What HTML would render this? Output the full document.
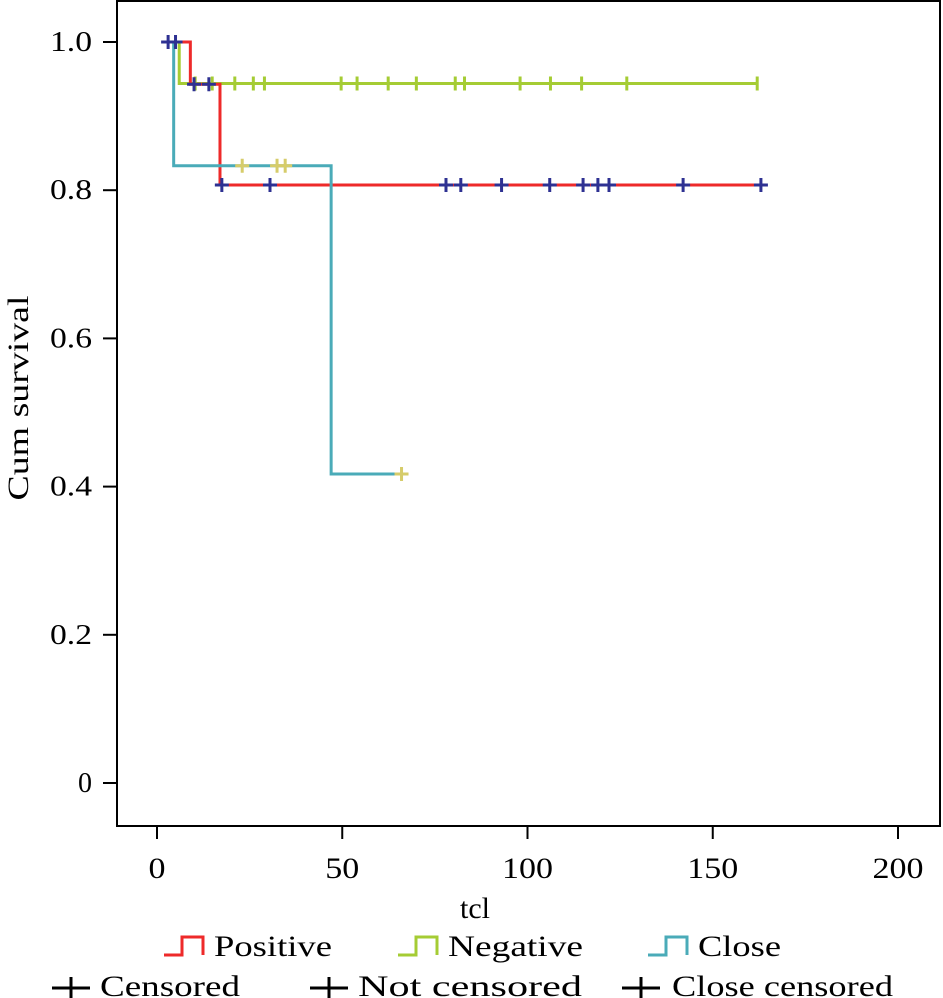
<!DOCTYPE html>
<html><head><meta charset="utf-8"><style>
html,body{margin:0;padding:0;background:#fff;}
svg{display:block;font-family:"Liberation Serif",serif;}
</style></head><body>
<svg id="chart" width="943" height="998" viewBox="0 0 943 998">
<rect x="117" y="1" width="823" height="825" fill="none" stroke="#000" stroke-width="2"/>
<g id="axes"></g>
<g id="series"></g>
<text x="28" y="398" font-size="30" text-anchor="middle" transform="rotate(-90 28 398)" textLength="205" lengthAdjust="spacingAndGlyphs">Cum survival</text>
<text x="475" y="918" font-size="30" text-anchor="middle">tcl</text>
<g>
 <g><path d="M164 955 H182 V937 H203 V955" fill="none" stroke="#ee2a2a" stroke-width="3"/><text x="214" y="956" font-size="30" textLength="118" lengthAdjust="spacingAndGlyphs">Positive</text></g>
 <g><path d="M398 955 H416 V937 H437 V955" fill="none" stroke="#a5cc34" stroke-width="3"/><text x="448" y="956" font-size="30" textLength="135" lengthAdjust="spacingAndGlyphs">Negative</text></g>
 <g><path d="M648 955 H666 V937 H687 V955" fill="none" stroke="#4aabb8" stroke-width="3"/><text x="698" y="956" font-size="30" textLength="83" lengthAdjust="spacingAndGlyphs">Close</text></g>
 <g><path d="M52 988 H90 M71 977 V999" stroke="#000" stroke-width="3"/><text x="100" y="996" font-size="30" textLength="140" lengthAdjust="spacingAndGlyphs">Censored</text></g>
 <g><path d="M310 988 H348 M329 977 V999" stroke="#000" stroke-width="3"/><text x="358" y="996" font-size="30" textLength="224" lengthAdjust="spacingAndGlyphs">Not censored</text></g>
 <g><path d="M622 988 H660 M641 977 V999" stroke="#000" stroke-width="3"/><text x="672" y="996" font-size="30" textLength="221" lengthAdjust="spacingAndGlyphs">Close censored</text></g>
</g>
</svg>
<script>
const xTicks=[0,50,100,150,200];
const yTicks=[0,0.2,0.4,0.6,0.8,1.0];
const yTickLabels=["0","0.2","0.4","0.6","0.8","1.0"];
const posTimes=[2,9,17,163];
const posSurv=[1.0,0.943,0.807,0.807];
const negTimes=[2,6,162];
const negSurv=[1.0,0.944,0.944];
const closeTimes=[2,4.5,47,66];
const closeSurv=[1.0,0.833,0.417,0.417];
const posCensT=[3,5,10,14,17.5,30.5,78,82,93,106,115,119,122,142,163];
const posCensS=[1,1,0.943,0.943,0.807,0.807,0.807,0.807,0.807,0.807,0.807,0.807,0.807,0.807,0.807];
const negCensT=[10.3,14.9,21,26,29,49.7,54,62.4,70,80.5,83,98,106.2,114.6,126.8,162];
const negCensS=[0.944,0.944,0.944,0.944,0.944,0.944,0.944,0.944,0.944,0.944,0.944,0.944,0.944,0.944,0.944,0.944];
const closeCensT=[23,32.4,34.6,66];
const closeCensS=[0.833,0.833,0.833,0.417];

const NS="http://www.w3.org/2000/svg";
const xs=v=>157+v*3.705;
const ys=v=>783-v*741;
const axes=document.getElementById('axes');
const ser=document.getElementById('series');
function mk(tag,attrs,parent){const e=document.createElementNS(NS,tag);for(const k in attrs)e.setAttribute(k,attrs[k]);parent.appendChild(e);return e;}
xTicks.forEach(t=>{
 const l=mk('line',{x1:xs(t),x2:xs(t),y1:827,y2:839,stroke:'#000','stroke-width':2},axes);
 
 
 const w=String(t).length*17;
 const tx=mk('text',{x:xs(t),y:878,'font-size':30,'text-anchor':'middle',textLength:w,lengthAdjust:'spacingAndGlyphs'},axes);
 tx.textContent=t;
 
 
});
yTicks.forEach((t,i)=>{
 const l=mk('line',{x1:103,x2:117,y1:ys(t),y2:ys(t),stroke:'#000','stroke-width':2},axes);
 
 
 const w=yTickLabels[i].length>1?42:14;
 const tx=mk('text',{x:92,y:ys(t)+9,'font-size':28,'text-anchor':'end',textLength:w,lengthAdjust:'spacingAndGlyphs'},axes);
 tx.textContent=yTickLabels[i];
 
 
});
function step(T,S,color,name){
 let d='M'+xs(T[0])+' '+ys(S[0]);
 for(let i=1;i<T.length;i++){d+=' H'+xs(T[i])+' V'+ys(S[i]);}
 const p=mk('path',{d:d,fill:'none',stroke:color,'stroke-width':3},ser);
 
 
}
function marks(T,S,color,name,full){
 T.forEach((t,i)=>{
  const x=xs(t),y=ys(S[i]);
  const d=full?`M${x-7} ${y} H${x+7} M${x} ${y-7} V${y+7}`:`M${x} ${y-7} V${y+7}`;
  const p=mk('path',{d:d,stroke:color,'stroke-width':3},ser);
  
  
 });
}
step(negTimes,negSurv,'#a5cc34','negative-curve');
step(posTimes,posSurv,'#ee2a2a','positive-curve');
step(closeTimes,closeSurv,'#4aabb8','close-curve');
marks(negCensT,negCensS,'#a5cc34','negative-censor-mark',false);
marks(posCensT,posCensS,'#2e3192','positive-censor-mark',true);
marks(closeCensT,closeCensS,'#d6cc6a','close-censor-mark',true);
</script>
</body></html>
